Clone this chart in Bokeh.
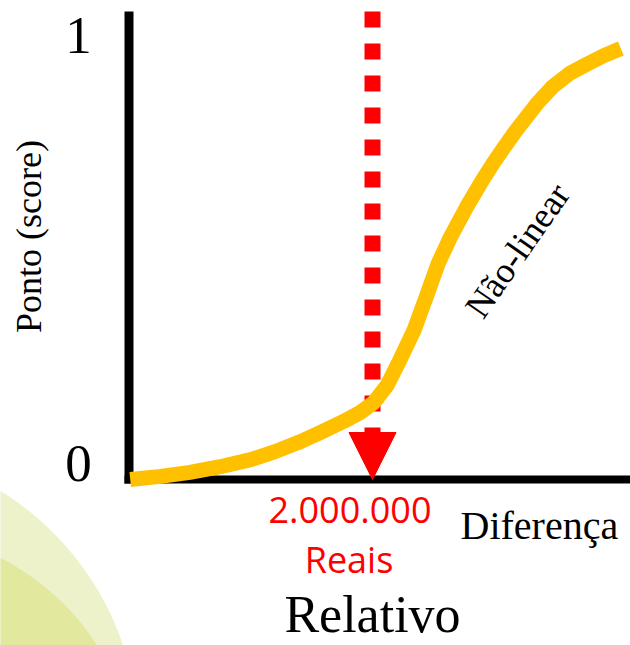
from bokeh.plotting import figure
from bokeh.models import Range1d, ColumnDataSource, Arrow, NormalHead
from bokeh.core.properties import value
from bokeh.embed import file_html
from bokeh.resources import INLINE
import math

# --- data -------------------------------------------------------------
# relative difference (reais) and the resulting score (0..1)
curve_x = [10000, 260000, 500000, 750000, 1000000, 1200000, 1410000,
           1570000, 1760000, 1900000, 2010000, 2120000, 2210000, 2340000,
           2440000, 2540000, 2640000, 2770000, 2900000, 2990000, 3080000,
           3180000, 3360000, 3480000, 3620000, 3770000, 3900000, 4040000]
curve_score = [0.0, 0.007, 0.016, 0.029, 0.045, 0.063, 0.086,
               0.106, 0.131, 0.152, 0.174, 0.213, 0.262, 0.337,
               0.412, 0.489, 0.548, 0.615, 0.676, 0.715, 0.751,
               0.790, 0.853, 0.889, 0.919, 0.941, 0.959, 0.975]
threshold_reais = 2000000
score_ticks = [0, 1]
score_tick_labels = ["0", "1"]

# --- layout -----------------------------------------------------------
PX_PER_UNIT_X = 121.75 / 1e6      # screen px per real
PX_PER_UNIT_Y = 442.0             # screen px per score unit
X0_PX, Y0_PX = 128.5, 479.0       # origin on the canvas
W, H = 630, 645
BASE_SHIFT = 0.38                 # baseline correction, fraction of font size

def xd(px):
    return (px - X0_PX) / PX_PER_UNIT_X

def yd(py):
    return (Y0_PX - py) / PX_PER_UNIT_Y

SERIF = value("Liberation Serif")
SANS = value("Open Sans")
RED = "#FF0000"
GOLD = "#FFC000"

p = figure(width=W, height=H, x_range=Range1d(xd(0), xd(W)),
           y_range=Range1d(yd(H), yd(0)), x_axis_type=None, y_axis_type=None,
           output_backend="svg", toolbar_location=None, min_border=0,
           min_border_left=0, min_border_right=0, min_border_top=0,
           min_border_bottom=0)
p.grid.visible = False
p.outline_line_color = None
p.background_fill_color = "white"
p.border_fill_color = "white"

# decorative green bands in the lower-left corner
p.scatter(x=[xd(-153)], y=[yd(738)], size=582, marker="circle",
          fill_color="#EDF2CB", line_color=None)
p.scatter(x=[xd(-116)], y=[yd(782)], size=506, marker="circle",
          fill_color="#E2E99F", line_color=None)

# axis lines
p.segment(x0=[0], y0=[yd(11)], x1=[0], y1=[yd(483)], line_color="black",
          line_width=9, line_cap="butt")
p.segment(x0=[xd(124)], y0=[0], x1=[xd(W)], y1=[0], line_color="black",
          line_width=8, line_cap="butt")

# dotted threshold marker with arrow head
p.segment(x0=[threshold_reais], y0=[yd(11)], x1=[threshold_reais], y1=[yd(432)],
          line_color=RED, line_width=16, line_dash="16 16", line_cap="butt")
p.add_layout(Arrow(x_start=threshold_reais, y_start=yd(432),
                   x_end=threshold_reais, y_end=0, line_alpha=0,
                   end=NormalHead(size=47, fill_color=RED, line_color=RED,
                                  line_width=1)))

# non-linear score curve
p.line(curve_x, curve_score, line_color=GOLD, line_width=15,
       line_join="round", line_cap="butt")


def label(px, py, text, size, font, color="black", align="center", angle=0.0):
    p.text(x=[xd(px)], y=[yd(py)], text=[text], angle=angle,
           y_offset=-BASE_SHIFT * size, text_font=font,
           text_font_size=f"{size}px", text_color=color, text_align=align,
           text_baseline="alphabetic")


# score tick labels
tick_src = ColumnDataSource(dict(x=[xd(78)] * len(score_ticks), y=score_ticks,
                                 text=score_tick_labels,
                                 yoff=[4 - BASE_SHIFT * 53, 18 - BASE_SHIFT * 53]))
p.text(x="x", y="y", text="text", y_offset="yoff", source=tick_src,
       text_font=SERIF, text_font_size="53px", text_color="black",
       text_align="center", text_baseline="alphabetic")

# axis titles
p.text(x=[xd(42 - BASE_SHIFT * 36)], y=[yd(236)], text=["Ponto (score)"],
       angle=math.pi / 2, text_font=SERIF, text_font_size="36px",
       text_color="black", text_align="center", text_baseline="alphabetic")
p.text(x=[threshold_reais], y=[yd(634)], text=["Relativo"], text_font=SERIF,
       y_offset=-BASE_SHIFT * 52, text_font_size="52px", text_color="black",
       text_align="center", text_baseline="alphabetic")
label(460, 540, "Diferença", 40, SERIF, align="left")
p.text(x=[xd(517)], y=[yd(250)], text=["Não-linear"], angle=math.radians(55),
       text_font=SERIF, text_font_size="36px", text_color="black",
       text_align="center", text_baseline="middle")

# threshold value label
threshold_label = f"{threshold_reais:,}".replace(",", ".")
label(349.5, 523, threshold_label, 36, SANS, color=RED)
label(348.5, 573, "Reais", 36, SANS, color=RED)

open("out.html", "w").write(file_html(p, INLINE))
